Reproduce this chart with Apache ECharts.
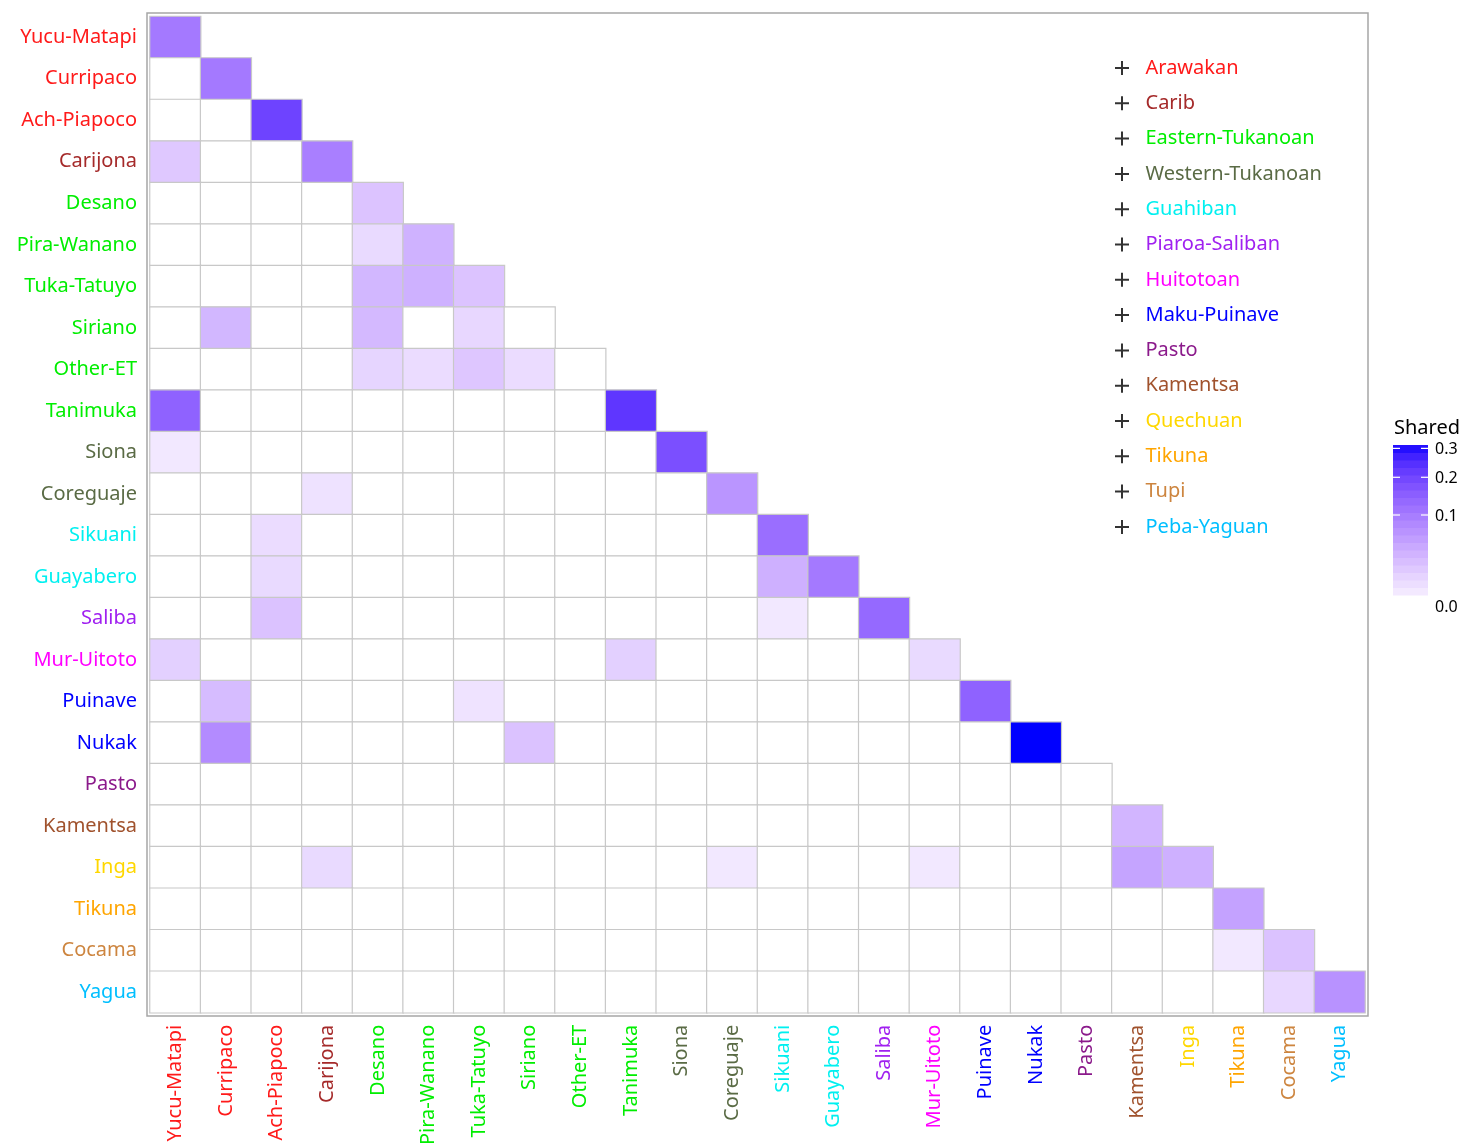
<!DOCTYPE html>
<html><head><meta charset="utf-8">
<script src="https://cdn.jsdelivr.net/npm/echarts@6/dist/echarts.min.js"></script>
<style>html,body{margin:0;padding:0;background:#fff}#c{width:1465px;height:1148px}</style>
</head><body><div id="c"></div>
<script>
const categories = ['Yucu-Matapi','Curripaco','Ach-Piapoco','Carijona','Desano','Pira-Wanano','Tuka-Tatuyo','Siriano','Other-ET','Tanimuka','Siona','Coreguaje','Sikuani','Guayabero','Saliba','Mur-Uitoto','Puinave','Nukak','Pasto','Kamentsa','Inga','Tikuna','Cocama','Yagua'];
const families = ['Arawakan','Carib','Eastern-Tukanoan','Western-Tukanoan','Guahiban','Piaroa-Saliban','Huitotoan','Maku-Puinave','Pasto','Kamentsa','Quechuan','Tikuna','Tupi','Peba-Yaguan'];
const familyColors = ['#ff1a1a','#a52a2a','#00ee00','#5a6b45','#00f0f0','#a020f0','#ff00ff','#0000ff','#8b1a8b','#a0522d','#ffd700','#ffa500','#cd853f','#00bfff'];
const categoryFamily = [0,0,0,1,2,2,2,2,2,2,3,3,4,4,5,6,7,7,8,9,10,11,12,13];
// non-zero lower-triangle cells (row, column, shared); every other lower-triangle cell is 0
const pairRow   = [0,1,2,3,3,4,5,5,6,6,6,7,7,7,8,8,8,8,9,9,10,10,11,11,12,12,13,13,13,14,14,14,15,15,15,16,16,16,17,17,17,19,20,20,20,20,20,21,22,22,23,23];
const pairCol   = [0,1,2,0,3,4,4,5,4,5,6,1,4,6,4,5,6,7,0,9,0,10,3,11,2,12,2,12,13,2,12,14,0,9,15,1,6,16,1,7,17,19,3,11,15,19,20,21,21,22,22,23];
const pairValue = [0.105,0.105,0.205,0.017,0.096,0.020,0.008,0.034,0.030,0.035,0.020,0.030,0.028,0.009,0.010,0.007,0.018,0.007,0.145,0.231,0.003,0.181,0.005,0.066,0.007,0.124,0.008,0.036,0.105,0.021,0.003,0.132,0.0125,0.0125,0.008,0.026,0.0045,0.145,0.078,0.021,0.313,0.031,0.008,0.003,0.003,0.048,0.036,0.050,0.003,0.021,0.009,0.069];
const colorbarBreaks = [0.0, 0.1, 0.2, 0.3];
const colorbarLabels = ['0.0', '0.1', '0.2', '0.3'];
const legendTitle = 'Shared';

const FONT = 'Noto Sans';
const vMax = Math.max(...pairValue);
const sMax = Math.sqrt(vMax);

// Lab interpolation white -> blue (like ggplot's gradient)
function s2l(c){c/=255;return c<=0.04045?c/12.92:Math.pow((c+0.055)/1.055,2.4);}
function l2s(v){v=Math.min(1,Math.max(0,v));const s=v<=0.0031308?12.92*v:1.055*Math.pow(v,1/2.4)-0.055;return Math.round(s*255);}
function rgbToLab(rgb){const R=s2l(rgb[0]),G=s2l(rgb[1]),B=s2l(rgb[2]);
  const X=(0.4124*R+0.3576*G+0.1805*B)/0.95047,Y=0.2126*R+0.7152*G+0.0722*B,Z=(0.0193*R+0.1192*G+0.9505*B)/1.08883;
  const f=t=>t>0.008856?Math.cbrt(t):7.787*t+16/116;
  const fx=f(X),fy=f(Y),fz=f(Z);return [116*fy-16,500*(fx-fy),200*(fy-fz)];}
function labToRgb(lab){const fy=(lab[0]+16)/116,fx=fy+lab[1]/500,fz=fy-lab[2]/200;
  const fi=t=>t*t*t>0.008856?t*t*t:(t-16/116)/7.787;
  const X=fi(fx)*0.95047,Y=fi(fy),Z=fi(fz)*1.08883;
  return [l2s(3.2406*X-1.5372*Y-0.4986*Z),l2s(-0.9689*X+1.8758*Y+0.0415*Z),l2s(0.0557*X-0.2040*Y+1.0570*Z)];}
const labLo = rgbToLab([255,255,255]), labHi = rgbToLab([0,0,255]);
function colorAt(t){const lab=[0,1,2].map(i=>labLo[i]+(labHi[i]-labLo[i])*t);const c=labToRgb(lab);return 'rgb('+c.join(',')+')';}
const stops=[];for(let i=0;i<=40;i++)stops.push(colorAt(i/40));

// build heatmap cells (lower triangle incl. diagonal)
const lookup={};pairRow.forEach((r,i)=>{lookup[r+'_'+pairCol[i]]=pairValue[i];});
const cells=[];
for(let r=0;r<categories.length;r++){for(let c=0;c<=r;c++){const v=lookup[r+'_'+c]||0;cells.push([c,r,Math.sqrt(v)]);}}

const labelColor=(val,idx)=>familyColors[categoryFamily[idx]];
const plusPath='path://M6,0h2v6h6v2h-6v6h-2v-6h-6v-2h6z';

// colorbar geometry (sqrt scale)
const cbX=1393, cbW=35, cbY0=606, cbK=(cbY0-445)/sMax, cbBottom=595;
const sLo=(cbY0-cbBottom)/cbK;
const graphics=[];
graphics.push({type:'rect',shape:{x:147,y:13,width:1221,height:1003},style:{fill:null,stroke:'#a6a6a6',lineWidth:1.5},z:10,silent:true});
graphics.push({type:'text',left:1394,top:418,style:{text:legendTitle,font:'20px '+FONT,fill:'#000'}});
const nb=20;
for(let i=0;i<nb;i++){const s0=sLo+(sMax-sLo)*i/nb,s1=sLo+(sMax-sLo)*(i+1)/nb;const sm=(s0+s1)/2;
  const y1=cbY0-s1*cbK,y0=cbY0-s0*cbK;
  graphics.push({type:'rect',shape:{x:cbX,y:y1,width:cbW,height:y0-y1+0.6},style:{fill:colorAt(sm/sMax)},silent:true});}
colorbarBreaks.forEach((b,i)=>{const y=cbY0-Math.sqrt(b)*cbK;
  if(y>cbY0-sMax*cbK && y<cbBottom){
    graphics.push({type:'line',shape:{x1:cbX,y1:y,x2:cbX+7,y2:y},style:{stroke:'#fff',lineWidth:1.2}});
    graphics.push({type:'line',shape:{x1:cbX+cbW-7,y1:y,x2:cbX+cbW,y2:y},style:{stroke:'#fff',lineWidth:1.2}});}
  graphics.push({type:'text',x:1435,y:y+1,style:{text:colorbarLabels[i],font:'16px '+FONT,fill:'#000',textVerticalAlign:'middle'}});
});

const famSeries=families.map(f=>({type:'scatter',name:f,data:[],itemStyle:{color:'#000'}}));

const chart=echarts.init(document.getElementById('c'));
chart.setOption({
  animation:false,
  backgroundColor:'#fff',
  grid:{left:150,top:16.5,width:1215,height:997},
  xAxis:{type:'category',data:categories,offset:3,axisLine:{show:false},
    axisTick:{alignWithLabel:true,length:5,lineStyle:{color:'#333',width:1.2}},
    axisLabel:{rotate:90,margin:9,fontSize:20,fontFamily:FONT,color:labelColor,interval:0},splitLine:{show:false}},
  yAxis:{type:'category',data:categories,inverse:true,offset:4,axisLine:{show:false},
    axisTick:{alignWithLabel:true,length:5,lineStyle:{color:'#333',width:1.2}},
    axisLabel:{margin:9,fontSize:20,fontFamily:FONT,color:labelColor,interval:0},splitLine:{show:false}},
  visualMap:{type:'continuous',show:false,min:0,max:sMax,dimension:2,seriesIndex:0,inRange:{color:stops}},
  legend:{orient:'vertical',left:1110,top:53,itemWidth:37,itemHeight:14,itemGap:15.3,selectedMode:false,icon:plusPath,
    textStyle:{fontSize:20,fontFamily:FONT,lineHeight:20},
    data:families.map((f,i)=>({name:f,textStyle:{color:familyColors[i]}}))},
  graphic:graphics,
  series:[{type:'heatmap',data:cells,itemStyle:{borderColor:'#c8c8c8',borderWidth:1.2},emphasis:{disabled:true}}].concat(famSeries)
});
</script></body></html>
